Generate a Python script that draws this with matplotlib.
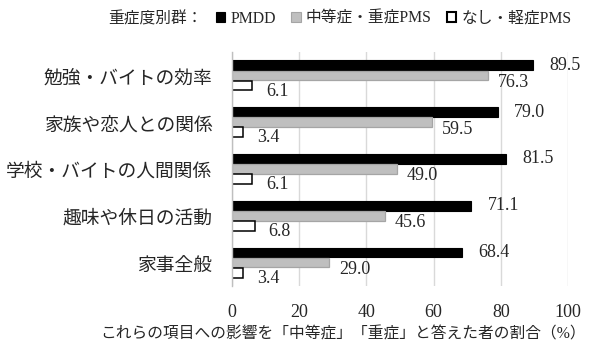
import matplotlib
matplotlib.use("Agg")
import matplotlib.pyplot as plt
from matplotlib.patches import Patch
import numpy as np

categories = ["勉強・バイトの効率", "家族や恋人との関係", "学校・バイトの人間関係", "趣味や休日の活動", "家事全般"]
series_names = ["PMDD", "中等症・重症PMS", "なし・軽症PMS"]
pmdd = [89.5, 79.0, 81.5, 71.1, 68.4]
moderate = [76.3, 59.5, 49.0, 45.6, 29.0]
none_mild = [6.1, 3.4, 6.1, 6.8, 3.4]
xticks = [0, 20, 40, 60, 80, 100]
legend_title = "重症度別群："
xlabel = "これらの項目への影響を「中等症」「重症」と答えた者の割合（%）"

FAM = ["Liberation Serif", "Noto Sans CJK JP"]
plt.rcParams['font.family'] = FAM

fig = plt.figure(figsize=(5.9, 3.47), dpi=100)
ax = fig.add_axes([0.393, 0.176, 0.570, 0.674])

y = np.arange(len(categories))
h = 0.21
off = 0.215
styles = [
    dict(color="#000000", edgecolor="#000000", linewidth=0.8),
    dict(color="#bfbfbf", edgecolor="#a5a5a5", linewidth=0.9),
    dict(color="#ffffff", edgecolor="#000000", linewidth=1.1),
]
data = [pmdd, moderate, none_mild]
label_offsets = [(12, 0), (7, -5), (10, -4)]
for k, (vals, st, lo) in enumerate(zip(data, styles, label_offsets)):
    ypos = y + (k - 1) * off
    ax.barh(ypos, vals, height=h, zorder=3, **st)
    for yy, v in zip(ypos, vals):
        ax.annotate(f"{v:.1f}", xy=(v, yy), xytext=lo, textcoords="offset points",
                    ha="left", va="center", fontsize=13, color="#262626",
                    family="Liberation Serif", zorder=4)

ax.set_xlim(0, 100)
ax.set_ylim(len(categories) - 0.5, -0.5)
ax.set_xticks(xticks)
ax.set_xticklabels([str(t) for t in xticks], fontsize=13, family="Liberation Serif", color="#262626")
ax.set_yticks(y)
ax.set_yticklabels(categories, fontsize=13.5, family=["Noto Sans CJK JP"], color="#262626")
ax.tick_params(axis="both", length=0)
ax.tick_params(axis="x", pad=13)
ax.tick_params(axis="y", pad=14)
ax.xaxis.grid(True, color="#d9d9d9", linewidth=1.0, zorder=0)
ax.set_axisbelow(True)
for s in ["top", "right", "bottom"]:
    ax.spines[s].set_visible(False)
ax.spines["left"].set_color("#bfbfbf")
ax.spines["left"].set_linewidth(1.0)
ax.spines["left"].set_zorder(5)

fig.text(343 / 590, 1 - 335 / 347, xlabel, fontsize=11.3, family=FAM, color="#262626",
         ha="center", va="center")

fig.text(108 / 590, 1 - 19 / 347, legend_title, fontsize=11.3, family=["Noto Sans CJK JP"],
         color="#262626", ha="left", va="center")
handles = [Patch(facecolor=st["color"], edgecolor=st["edgecolor"], linewidth=1.5 if k == 2 else 0.8)
           for k, st in enumerate(styles)]
fig.legend(handles, series_names, loc="center left", bbox_to_anchor=(216 / 590, 1 - 19 / 347),
           ncol=3, frameon=False, fontsize=11.3, handlelength=0.6, handleheight=0.6,
           handletextpad=0.3, columnspacing=1.0, borderpad=0, borderaxespad=0,
           labelcolor="#262626")

fig.savefig("out.png", dpi=100)
